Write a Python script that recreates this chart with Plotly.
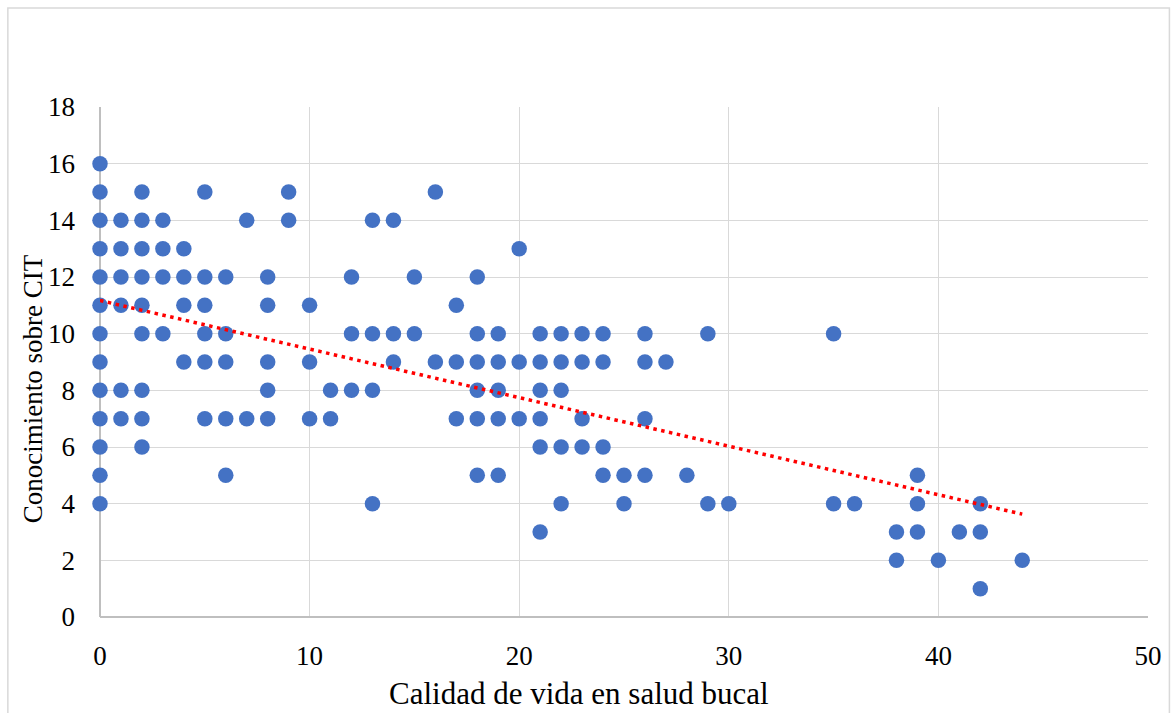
import plotly.graph_objects as go

# Data (x: Calidad de vida en salud bucal, y: Conocimiento sobre CIT)
x_vals = (
    [0]*13 + [1]*6 + [2]*9 + [3]*4 + [4]*4 + [5]*6 + [6]*5 + [7]*2 + [8]*5 +
    [9]*2 + [10]*3 + [11]*2 + [12]*3 + [13]*4 + [14]*3 + [15]*2 + [16]*2 +
    [17]*3 + [18]*6 + [19]*5 + [20]*3 + [21]*6 + [22]*5 + [23]*4 + [24]*4 +
    [25]*2 + [26]*4 + [27]*1 + [28]*1 + [29]*2 + [30]*1 + [35]*2 + [36]*1 +
    [38]*2 + [39]*3 + [40]*1 + [41]*1 + [42]*3 + [44]*1
)
y_vals = (
    [16, 15, 14, 13, 12, 11, 10, 9, 8, 7, 6, 5, 4] +      # 0
    [14, 13, 12, 11, 8, 7] +                               # 1
    [15, 14, 13, 12, 11, 10, 8, 7, 6] +                    # 2
    [14, 13, 12, 10] +                                     # 3
    [13, 12, 11, 9] +                                      # 4
    [15, 12, 11, 10, 9, 7] +                               # 5
    [12, 10, 9, 7, 5] +                                    # 6
    [14, 7] +                                              # 7
    [12, 11, 9, 8, 7] +                                    # 8
    [15, 14] +                                             # 9
    [11, 9, 7] +                                           # 10
    [8, 7] +                                               # 11
    [12, 10, 8] +                                          # 12
    [14, 10, 8, 4] +                                       # 13
    [14, 10, 9] +                                          # 14
    [12, 10] +                                             # 15
    [15, 9] +                                              # 16
    [11, 9, 7] +                                           # 17
    [12, 10, 9, 8, 7, 5] +                                 # 18
    [10, 9, 8, 7, 5] +                                     # 19
    [13, 9, 7] +                                           # 20
    [10, 9, 8, 7, 6, 3] +                                  # 21
    [10, 9, 8, 6, 4] +                                     # 22
    [10, 9, 7, 6] +                                        # 23
    [10, 9, 6, 5] +                                        # 24
    [5, 4] +                                               # 25
    [10, 9, 7, 5] +                                        # 26
    [9] +                                                  # 27
    [5] +                                                  # 28
    [10, 4] +                                              # 29
    [4] +                                                  # 30
    [10, 4] +                                              # 35
    [4] +                                                  # 36
    [3, 2] +                                               # 38
    [5, 4, 3] +                                            # 39
    [2] +                                                  # 40
    [3] +                                                  # 41
    [4, 3, 1] +                                            # 42
    [2]                                                    # 44
)

# Linear trend line
trend_x = [0, 44]
trend_y = [11.17, 3.63]

x_ticks = [0, 10, 20, 30, 40, 50]
y_ticks = [0, 2, 4, 6, 8, 10, 12, 14, 16, 18]

x_title = "Calidad de vida en salud bucal"
y_title = "Conocimiento sobre CIT"

FONT = "Liberation Serif"

fig = go.Figure()
fig.add_trace(go.Scatter(
    x=x_vals, y=y_vals, mode="markers",
    marker=dict(size=15.5, color="#4472C4", line=dict(width=0)),
    cliponaxis=False, showlegend=False, hoverinfo="x+y",
))
fig.add_trace(go.Scatter(
    x=trend_x, y=trend_y, mode="lines",
    line=dict(color="#FF0000", width=3.5, dash="3.5px,4.5px"),
    showlegend=False, hoverinfo="skip",
))

L, R, T, B = 100, 22, 107, 96
W, H = 1174, 713
pw = W - L - R
ph = H - T - B

def px(xpix):
    return (xpix - L) / pw

def py(ypix):
    return (H - B - ypix) / ph

fig.update_layout(
    width=W, height=H,
    margin=dict(l=L, r=R, t=T, b=B),
    paper_bgcolor="white", plot_bgcolor="white",
    font=dict(family=FONT, size=27, color="black"),
    xaxis=dict(
        range=[0, 50], tickvals=x_ticks, showgrid=True,
        gridcolor="#D9D9D9", gridwidth=1.3,
        zeroline=True, zerolinecolor="#BFBFBF", zerolinewidth=1.5,
        showline=False, ticks="", ticklabelstandoff=20,
        tickfont=dict(family=FONT, size=27, color="black"),
    ),
    yaxis=dict(
        range=[0, 18], tickvals=y_ticks, showgrid=True,
        gridcolor="#D9D9D9", gridwidth=1.3,
        zeroline=True, zerolinecolor="#BFBFBF", zerolinewidth=1.5,
        showline=False, ticks="", ticklabelstandoff=24,
        tickfont=dict(family=FONT, size=27, color="black"),
    ),
    annotations=[
        dict(text=x_title, xref="paper", yref="paper",
             x=px(581), y=py(693), showarrow=False, xanchor="center", yanchor="middle",
             font=dict(family=FONT, size=31, color="black")),
        dict(text=y_title, xref="paper", yref="paper",
             x=px(33), y=py(389), showarrow=False, xanchor="center", yanchor="middle",
             textangle=-90, font=dict(family=FONT, size=27, color="black")),
    ],
    shapes=[
        dict(type="rect", xref="paper", yref="paper",
             x0=px(7.5), x1=px(1173.5), y0=py(716), y1=py(8),
             line=dict(color="#D9D9D9", width=1.5), fillcolor="rgba(0,0,0,0)", layer="below"),
    ],
)

fig.write_html("out.html", config={"displayModeBar": False},
               post_script="document.body.style.margin='0';document.body.style.overflow='hidden';")
